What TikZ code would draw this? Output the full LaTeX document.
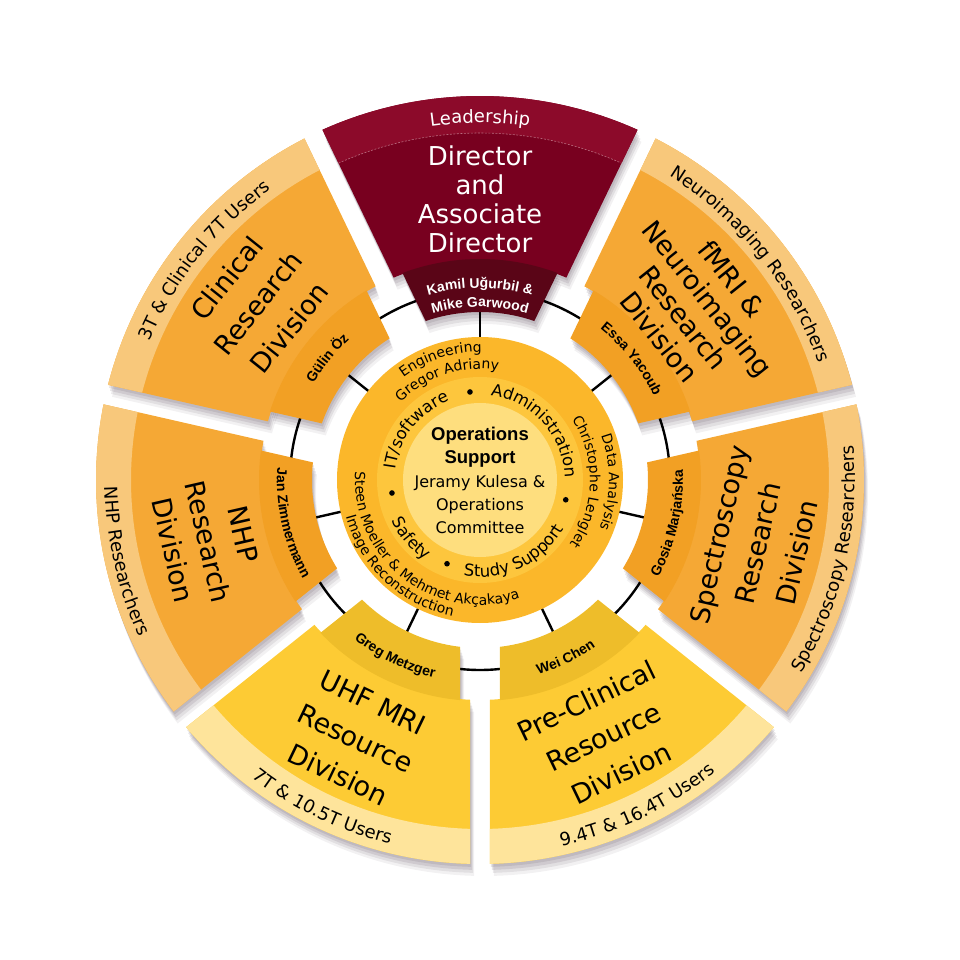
\documentclass[tikz,border=0pt]{standalone}
\usepackage{fontspec}
\setmainfont{DejaVu Sans}
\newfontfamily\libsans{Liberation Sans}
\usetikzlibrary{decorations.text}
\definecolor{leadband}{HTML}{8C0A2A}
\definecolor{leadmain}{HTML}{78001F}
\definecolor{leadtab}{HTML}{5A0517}
\definecolor{orband}{HTML}{F8C87B}
\definecolor{ormain}{HTML}{F5A835}
\definecolor{ortab}{HTML}{F2A024}
\definecolor{yeband}{HTML}{FEE49B}
\definecolor{yemain}{HTML}{FDCB34}
\definecolor{yetab}{HTML}{EEBD2A}
\definecolor{cOuter}{HTML}{FBB72A}
\definecolor{cMid}{HTML}{FDC63D}
\definecolor{cInner}{HTML}{FEDE7E}
\definecolor{shadowc}{HTML}{4A3A4A}
\newcommand\tabfont{\libsans\bfseries\fontsize{14}{14}\selectfont}
\newcommand\bandfont{\fontsize{18}{18}\selectfont}
\newcommand\cfont{\fontsize{14}{14}\selectfont}
\newcommand\rfont{\fontsize{16.5}{16.5}\selectfont}
% offset annular sector: fill, centre angle, r1, r2, offset
\newcommand\osec[5]{%
 \pgfmathsetmacro\aIa{#2-25.7143+asin(#5/#3)}%
 \pgfmathsetmacro\aIb{#2+25.7143-asin(#5/#3)}%
 \pgfmathsetmacro\aOa{#2-25.7143+asin(#5/#4)}%
 \pgfmathsetmacro\aOb{#2+25.7143-asin(#5/#4)}%
 \fill[#1] (\aIa:#3) arc[start angle=\aIa,end angle=\aIb,radius=#3] -- (\aOb:#4) arc[start angle=\aOb,end angle=\aOa,radius=#4] -- cycle;}
% clockwise text (letters point outward)
\newcommand\toptext[4]{%
 \pgfmathsetmacro\tA{#2+75}\pgfmathsetmacro\tB{#2-75}%
 \path[decorate,decoration={text along path,text align=center,text={|#1|#4}}] (\tA:#3) arc[start angle=\tA,end angle=\tB,radius=#3];}
% counter-clockwise text (letters point inward)
\newcommand\bottext[4]{%
 \pgfmathsetmacro\tA{#2-75}\pgfmathsetmacro\tB{#2+75}%
 \path[decorate,decoration={text along path,text align=center,text={|#1|#4}}] (\tA:#3) arc[start angle=\tA,end angle=\tB,radius=#3];}
\tikzset{
  maintext/.style={align=center, font=\fontsize{27}{40}\selectfont, text=black, inner sep=0pt},
  ringtick/.style={line width=2.4pt, black},
  bulletdot/.style={fill=black},
}
\begin{document}
\begin{tikzpicture}[x=1pt,y=1pt]
\useasboundingbox (-480,-480) rectangle (480,480);
% soft shadows
\foreach \dx/\dy/\op in {1/-3/0.12, 2/-6/0.12, 3/-9/0.10, 4/-12/0.07}{
 \begin{scope}[shift={(\dx,\dy)}]
  \foreach \c in {90,38.5714,-12.8571,-64.2857,-115.7143,-167.1429,141.4286}{
    \osec{shadowc,opacity=\op}{\c}{220}{384}{10}
    \osec{shadowc,opacity=\op}{\c}{168}{221}{20}
  }
 \end{scope}}
% ring and ticks
\draw[line width=2.4pt] (0,0) circle (190);
\foreach \c in {90,38.5714,-12.8571,-64.2857,-115.7143,-167.1429,141.4286}
  \draw[ringtick] (\c:140) -- (\c:170);
% central discs
\fill[cOuter] (0,0) circle (143);
\fill[cMid] (0,0) circle (103);
\fill[cInner] (0,0) circle (77);
% main sectors and bands
\osec{leadmain}{90}{220}{384}{10}
\osec{leadband}{90}{347}{384}{10}
\draw[leadband!60!white, line width=0.6pt, dash pattern=on 2pt off 1.5pt] (114.06:347) arc[start angle=114.06,end angle=65.94,radius=347];
\foreach \c in {38.5714,-12.8571,-167.1429,141.4286}{
  \osec{ormain}{\c}{220}{384}{10}
  \osec{orband}{\c}{349}{384}{10}
  \osec{ortab}{\c}{168}{221}{20}}
\foreach \c in {-64.2857,-115.7143}{
  \osec{yemain}{\c}{220}{384}{10}
  \osec{yeband}{\c}{349}{384}{10}
  \osec{yetab}{\c}{168}{221}{20}}
\osec{leadtab}{90}{168}{221}{20}
% bands text
\toptext{\color{white}\bandfont}{90}{357}{Leadership}
\toptext{\bandfont}{141.4286}{358}{3T {\&} Clinical 7T Users}
\toptext{\bandfont}{38.5714}{358}{Neuroimaging Researchers}
\bottext{\bandfont}{-12.8571}{375}{Spectroscopy Researchers}
\bottext{\bandfont}{-64.2857}{375}{9.4T {\&} 16.4T Users}
\bottext{\bandfont}{-115.7143}{375}{7T {\&} 10.5T Users}
\bottext{\bandfont}{-167.1429}{375}{NHP Researchers}
% main texts
\node[maintext, text=white, font=\fontsize{26}{29}\selectfont] (lead) at (90:281) {Director\\and\\Associate\\Director};
\node[maintext, rotate=51.4286] (clin) at (141.4286:284) {Clinical\\Research\\Division};
\node[maintext, font=\fontsize{27}{31}\selectfont, rotate=-51.4286] (fmri) at (38.5714:276) {fMRI \&\\Neuroimaging\\Research\\Division};
\node[maintext, rotate=77.1429] (spec) at (-12.8571:285) {Spectroscopy\\Research\\Division};
\node[maintext, rotate=25.7143] (prec) at (-64.2857:285) {Pre-Clinical\\Resource\\Division};
\node[maintext, rotate=-25.7143] (uhf) at (-115.7143:287) {UHF MRI\\Resource\\Division};
\node[maintext, font=\fontsize{27}{36}\selectfont, rotate=-77.1429] (nhp) at (-167.1429:279) {NHP\\Research\\Division};
% tab names
\toptext{\color{white}\tabfont}{90}{192}{Kamil Uğurbil {\&}}
\toptext{\color{white}\tabfont}{90}{173}{Mike Garwood}
\toptext{\tabfont}{38.5714}{193}{Essa Yacoub}
\toptext{\tabfont}{141.4286}{192}{Gülin Öz}
\bottext{\tabfont}{-12.8571}{203}{Gosia Marjańska}
\bottext{\tabfont}{-64.2857}{203}{Wei Chen}
\bottext{\tabfont}{-115.7143}{203}{Greg Metzger}
\bottext{\tabfont}{-167.1429}{203}{Jan Zimmermann}
% centre disc texts
\toptext{\cfont}{108}{128}{Engineering}
\toptext{\cfont}{108}{111}{Gregor Adriany}
\toptext{\cfont}{-1}{129}{Data Analysis}
\toptext{\cfont}{-1}{110}{Christophe Lenglet}
\bottext{\cfont}{-127.5}{125}{Steen Moeller {\&} Mehmet Akçakaya}
\bottext{\cfont}{-133}{139}{Image Reconstruction}
\toptext{\rfont}{142}{85}{IT/software}
\toptext{\rfont}{42}{85}{Administration}
\bottext{\rfont}{-139.5}{97}{Safety}
\bottext{\rfont}{-65}{97}{Study Support}
\fill[bulletdot] (96.5:88.6) circle (2.8);
\fill[bulletdot] (-171.6:89) circle (2.8);
\fill[bulletdot] (-111.5:90) circle (2.8);
\fill[bulletdot] (-13:88) circle (2.8);
% centre
\node[font=\libsans\bfseries\fontsize{18.5}{23}\selectfont, anchor=base] (opsA) at (0,39) {Operations};
\node[font=\libsans\bfseries\fontsize{18.5}{23}\selectfont, anchor=base] (opsB) at (0,16) {Support};
\node[font=\fontsize{16}{23}\selectfont, anchor=base] (opsC) at (0,-7.5) {Jeramy Kulesa \&};
\node[font=\fontsize{16}{23}\selectfont, anchor=base] (opsD) at (0,-30.5) {Operations};
\node[font=\fontsize{16}{23}\selectfont, anchor=base] (opsE) at (0,-53.5) {Committee};
\end{tikzpicture}
\end{document}
